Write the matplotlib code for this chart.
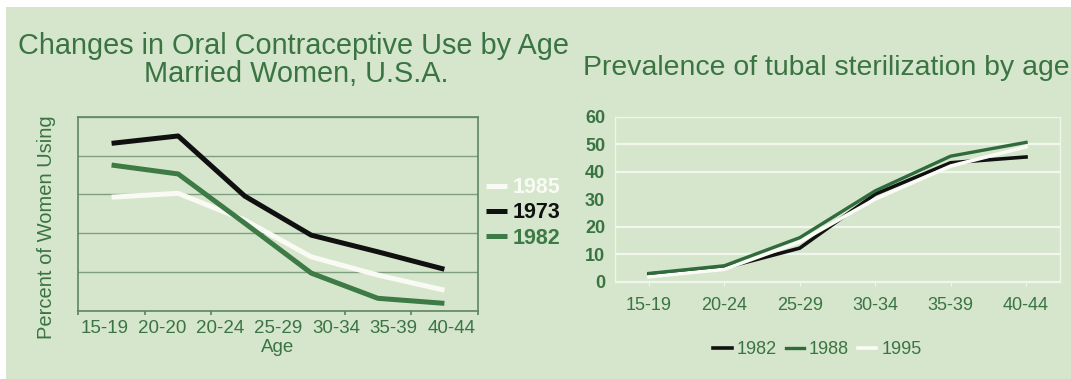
import numpy as np
import matplotlib
matplotlib.use("Agg")
import matplotlib.pyplot as plt
from matplotlib.patches import Rectangle

plt.rcParams['font.family'] = ['Liberation Sans', 'DejaVu Sans']

# oral contraceptive use, married women (percent, no scale printed)
oc_ages = ["15-19", "20-20", "20-24", "25-29", "30-34", "35-39", "40-44"]
oc_years = ["1985", "1973", "1982"]
oc_1973 = [43.2, 45.1, 29.6, 19.5, 15.2, 10.7]
oc_1982 = [37.6, 35.3, 22.6, 9.7, 3.2, 1.9]
oc_1985 = [29.3, 30.3, 23.4, 13.9, 9.2, 5.3]

# tubal sterilization prevalence by age (percent)
ts_ages = ["15-19", "20-24", "25-29", "30-34", "35-39", "40-44"]
ts_1982 = [2.8, 5.0, 12.2, 31.8, 43.2, 45.3]
ts_1988 = [3.0, 5.8, 16.0, 33.0, 45.6, 50.6]
ts_1995 = [1.8, 4.5, 14.5, 30.0, 42.0, 49.0]
ts_yticks = [0, 10, 20, 30, 40, 50, 60]

bg = '#d5e6cc'
green = '#3a7442'
dkgreen = '#2f6b3c'

fig = plt.figure(figsize=(10.71, 3.79), dpi=100, facecolor='white')
fig.patches.append(Rectangle((6/1071, 0), 1 - 6/1071, 372/379, transform=fig.transFigure,
                             facecolor=bg, edgecolor='none', zorder=-1))

# ---- left chart ----
ax1 = fig.add_axes([0.0731, 0.1802, 0.3729, 0.5111])
ax1.set_facecolor('none')
x1 = np.arange(len(oc_1973))
ax1.plot(x1, oc_1985, color='#fafaf4', lw=3.6, label=oc_years[0], solid_capstyle='butt')
ax1.plot(x1, oc_1982, color='#3d7a45', lw=3.6, label=oc_years[2], solid_capstyle='butt')
ax1.plot(x1, oc_1973, color='#101010', lw=3.6, label=oc_years[1], solid_capstyle='butt')
ax1.set_xlim(-0.5, len(x1) - 0.5)
ax1.set_ylim(0, 50)
ax1.set_yticks(np.arange(0, 51, 10))
ax1.yaxis.grid(True, color='#7e9f80', lw=1)
ax1.tick_params(axis='y', length=0, labelleft=False)
ax1.set_xticks(np.linspace(-0.11, 5.11, len(oc_ages)))
ax1.set_xticklabels(oc_ages, fontsize=13.5, color=green)
ax1.tick_params(axis='x', length=0, pad=7)
ax1.set_xticks(np.arange(-0.5, len(x1)), minor=True)
ax1.tick_params(axis='x', which='minor', length=3, width=1.2, color='#5a815e', direction='out')
for s in ax1.spines.values():
    s.set_color('#5f8763')
    s.set_linewidth(1.2)
ax1.set_xlabel("Age", fontsize=13.5, color=green, labelpad=1)
ax1.set_ylabel("Percent of Women Using", fontsize=14.5, color=green)
ax1.yaxis.set_label_coords(-0.055, 0.43)

h, l = ax1.get_legend_handles_labels()
order = [l.index(y) for y in oc_years]
leg1 = ax1.legend([h[i] for i in order], [l[i] for i in order], loc='center left',
                  bbox_to_anchor=(1.02, 0.505), frameon=False,
                  handlelength=1.0, handletextpad=0.25, labelspacing=0.2,
                  borderpad=0, borderaxespad=0, prop={'weight': 'bold', 'size': 15.5})
for t, c in zip(leg1.get_texts(), ['#fafaf4', '#101010', '#3d7a45']):
    t.set_color(c)

fig.text(0.274, 1 - 46/379, "Changes in Oral Contraceptive Use by Age", ha='center', va='center',
         fontsize=20.8, color=green)
fig.text(0.277, 1 - 74/379, "Married Women, U.S.A.", ha='center', va='center',
         fontsize=20.8, color=green)

# ---- right chart ----
ax2 = fig.add_axes([0.5742, 0.2567, 0.4155, 0.4359])
ax2.set_facecolor('none')
x2 = np.arange(len(ts_ages))
ax2.plot(x2, ts_1982, color='#111111', lw=2.6, label='1982')
ax2.plot(x2, ts_1995, color='#fbfbf6', lw=2.6, label='1995')
ax2.plot(x2, ts_1988, color=dkgreen, lw=2.4, label='1988')
ax2.set_xlim(-0.45, len(x2) - 0.55)
ax2.set_ylim(0, 60)
ax2.set_yticks(ts_yticks)
ax2.set_yticklabels([str(v) for v in ts_yticks], fontsize=13, color=green, fontweight='bold')
ax2.yaxis.grid(True, color='#f1f7ed', lw=1.6)
ax2.get_ygridlines()[3].set_visible(False)
ax2.tick_params(axis='y', length=0, pad=7)
ax2.set_xticks(x2)
ax2.set_xticklabels(ts_ages, fontsize=13, color=green)
ax2.tick_params(axis='x', length=3, color='#f1f7ed', pad=8)
for s in ax2.spines.values():
    s.set_color('#eef5ea')
    s.set_linewidth(1)

h, l = ax2.get_legend_handles_labels()
order = [l.index(y) for y in ['1982', '1988', '1995']]
leg2 = ax2.legend([h[i] for i in order], [l[i] for i in order], loc='center',
                  bbox_to_anchor=(0.455, -0.413), frameon=False, ncol=3, fontsize=13,
                  handlelength=1.0, handletextpad=0.28, columnspacing=0.5,
                  borderpad=0, borderaxespad=0)
for t in leg2.get_texts():
    t.set_color(green)

fig.text(583/1071, 1 - 68/379, "Prevalence of tubal sterilization by age", ha='left', va='center',
         fontsize=20.4, color=green)

fig.savefig('out.png', dpi=100, facecolor='white')
